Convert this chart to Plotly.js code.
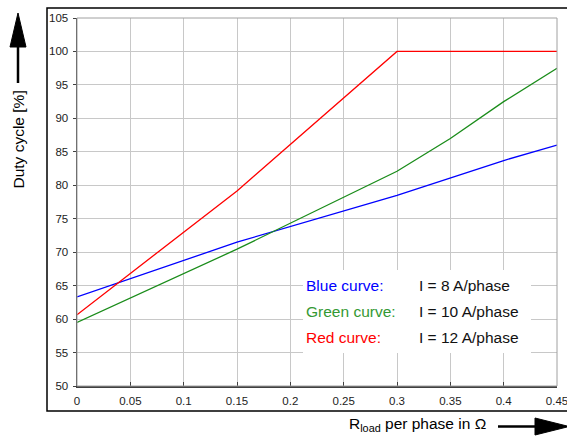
<!DOCTYPE html>
<html>
<head>
<meta charset="utf-8">
<script src="https://cdn.plot.ly/plotly-3.0.1.min.js"></script>
<style>html,body{margin:0;padding:0;background:#fff;}#chart{width:567px;height:439px;}</style>
</head>
<body>
<div id="chart"></div>
<script>
// Data
var rLoad = [0, 0.15, 0.3, 0.35, 0.4, 0.45];
var blueDuty = [63.3, 71.5, 78.5, 81.05, 83.7, 86.0];
var greenDuty = [59.5, 70.45, 82.1, 87.0, 92.5, 97.5];
var redDuty = [60.65, 79.15, 100, 100, 100, 100];
var curveNames = ["Blue curve:", "Green curve:", "Red curve:"];
var curveCurrents = ["I = 8 A/phase", "I = 10 A/phase", "I = 12 A/phase"];
var xTickVals = [0, 0.05, 0.1, 0.15, 0.2, 0.25, 0.3, 0.35, 0.4, 0.45];
var xTickText = ["0", "0.05", "0.1", "0.15", "0.2", "0.25", "0.3", "0.35", "0.4", "0.45"];
var yTickVals = [50, 55, 60, 65, 70, 75, 80, 85, 90, 95, 100, 105];

var lineColors = ["#0000ff", "#1a8c1a", "#ff0000"];
var textColors = ["#0000ff", "#339933", "#ff0000"];
var font = "Liberation Sans, Arial, sans-serif";

var series = [blueDuty, greenDuty, redDuty];
var traces = series.map(function (ys, i) {
  return {x: rLoad, y: ys, type: "scatter", mode: "lines",
          line: {color: lineColors[i], width: 1.3}, hoverinfo: "skip", showlegend: false};
});

// pixel -> paper helpers (plot area 77..557 x 18..386)
function px(x) { return (x - 77) / 480; }
function py(y) { return (386 - y) / 368; }

var annotations = [];
var rowY = [285, 311.7, 337.7];
for (var i = 0; i < 3; i++) {
  annotations.push({xref: "paper", yref: "paper", x: px(304), y: py(rowY[i]), xanchor: "left", yanchor: "middle",
    text: curveNames[i], showarrow: false, font: {family: font, size: 15.5, color: textColors[i]}});
  annotations.push({xref: "paper", yref: "paper", x: px(416.5), y: py(rowY[i]), xanchor: "left", yanchor: "middle",
    text: curveCurrents[i], showarrow: false, font: {family: font, size: 15.5, color: "#111"}});
}
annotations.push({xref: "paper", yref: "paper", x: px(17.5), y: py(140), xanchor: "center", yanchor: "middle",
  text: "Duty cycle [%]", textangle: -90, showarrow: false, font: {family: font, size: 15.5, color: "#000"}});
annotations.push({xref: "paper", yref: "paper", x: px(417.5), y: py(424.5), xanchor: "center", yanchor: "middle",
  text: "R<sub>load</sub> per phase in Ω", showarrow: false, font: {family: font, size: 15.5, color: "#000"}});

var shapes = [
  // outer frame
  {type: "rect", xref: "paper", yref: "paper", x0: px(47), x1: px(572), y0: py(411), y1: py(8),
   line: {color: "#000", width: 1.5}, fillcolor: "rgba(0,0,0,0)", layer: "below"},
  // plot border (top/right)
  {type: "rect", xref: "paper", yref: "paper", x0: 0, x1: 1, y0: 0, y1: 1,
   line: {color: "#a0a0a0", width: 1}, fillcolor: "rgba(0,0,0,0)", layer: "above"},
  // white label box
  {type: "rect", xref: "paper", yref: "paper", x0: px(303), x1: px(531), y0: py(353), y1: py(270),
   line: {width: 0}, fillcolor: "#fff", layer: "above"},
  // y arrow
  {type: "line", xref: "paper", yref: "paper", x0: px(18), x1: px(18), y0: py(83), y1: py(46),
   line: {color: "#000", width: 2.5}},
  {type: "path", xref: "paper", yref: "paper",
   path: "M " + px(18) + "," + py(13) + " L " + px(10) + "," + py(47) + " L " + px(26) + "," + py(47) + " Z",
   fillcolor: "#000", line: {color: "#000", width: 1}},
  // x arrow
  {type: "line", xref: "paper", yref: "paper", x0: px(498), x1: px(536), y0: py(426.5), y1: py(426.5),
   line: {color: "#000", width: 2.5}},
  {type: "path", xref: "paper", yref: "paper",
   path: "M " + px(569) + "," + py(426.5) + " L " + px(535) + "," + py(418) + " L " + px(535) + "," + py(435) + " Z",
   fillcolor: "#000", line: {color: "#000", width: 1}}
];

var layout = {
  width: 567, height: 439,
  margin: {l: 77, r: 10, t: 18, b: 53, pad: 0},
  paper_bgcolor: "#fff", plot_bgcolor: "#fff",
  font: {family: font, size: 11.5, color: "#222"},
  showlegend: false,
  xaxis: {range: [0, 0.45], tickvals: xTickVals, ticktext: xTickText, ticks: "inside", ticklen: 4,
          tickcolor: "#404040", showgrid: true, gridcolor: "#c8c8c8", gridwidth: 1,
          showline: true, linecolor: "#404040", linewidth: 1.5, zeroline: false,
          ticklabeloverflow: "allow",
          tickfont: {family: font, size: 11.5, color: "#222"}, ticklabelstandoff: 4},
  yaxis: {range: [50, 105], tickvals: yTickVals, ticks: "outside", ticklen: 3,
          tickcolor: "#404040", showgrid: true, gridcolor: "#c8c8c8", gridwidth: 1,
          showline: true, linecolor: "#404040", linewidth: 1.5, zeroline: false,
          ticklabelstandoff: 2,
          tickfont: {family: font, size: 11.5, color: "#222"}},
  shapes: shapes,
  annotations: annotations
};

Plotly.newPlot("chart", traces, layout, {staticPlot: true, displayModeBar: false});
</script>
</body>
</html>
